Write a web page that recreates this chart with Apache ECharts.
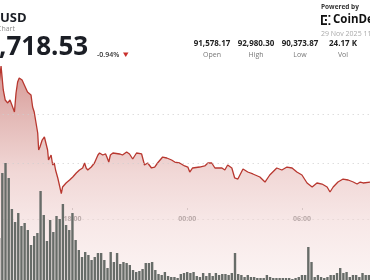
<!DOCTYPE html>
<html><head><meta charset="utf-8">
<script src="https://cdn.jsdelivr.net/npm/echarts@6/dist/echarts.min.js"></script>
<style>html,body{margin:0;padding:0;background:#fff}#c{width:370px;height:280px}</style>
</head><body><div id="c"></div>
<script>
// Price line: minutes since midnight of 28 Nov (values past 1440 are 29 Nov)
const lineMinutes = [850,856,863,869,877,884,890,898,903,908,913,922,929,939,950,955,960,966,971,974,978,985,992,997,1002,1005,1013,1018,1023,1027,1034,1039,1045,1049,1060,1071,1081,1092,1102,1112,1118,1123,1128,1139,1149,1160,1165,1175,1184,1188,1194,1199,1207,1228,1237,1250,1259,1269,1281,1297,1306,1316,1328,1338,1347,1363,1376,1391,1401,1416,1432,1442,1448,1457,1479,1495,1505,1517,1527,1549,1558,1567,1580,1589,1599,1615,1630,1646,1668,1684,1699,1721,1737,1753,1769,1784,1800,1816,1832,1847,1863,1879,1888,1898,1913,1929,1945,1961,1973,1983,1992,2014];
const linePrices = [92633,92980,92490,92286,92225,92286,92184,92041,92429,92653,92735,92694,92592,92449,92388,92143,92041,92020,91612,91265,91327,91469,91531,91510,91265,91061,91163,90959,91000,90857,90694,90551,90374,90510,90592,90653,90714,90796,90857,90898,91000,90898,90857,90918,91000,91163,91204,91163,91184,91122,91020,91163,91204,91184,91163,91225,91184,91082,91204,91184,90959,91000,90898,90918,91000,91122,91102,91061,91020,91000,90939,90918,90816,90898,90918,90939,91000,91000,90898,90898,90857,90959,90898,90694,90673,90878,90816,90776,90714,90612,90755,90898,90857,90918,90898,90816,90755,90592,90510,90592,90571,90510,90408,90510,90612,90673,90653,90612,90571,90612,90592,90612];
// Volume bars: 10-minute bars starting at 14:10
const volStart = 850;
const volumes = [168,428,468,408,284,232,268,216,228,200,140,176,188,356,260,156,240,192,256,244,304,220,200,268,160,120,92,112,100,
80,92,108,108,80,48,112,72,108,64,72,68,60,40,32,36,44,68,68,72,40,24,20,32,16,12,12,8,24,28,32,28,32,16,12,28,16,28,16,28,20,24,
24,20,28,108,24,20,12,20,12,12,8,8,8,20,12,8,8,8,8,8,8,4,8,12,20,20,132,72,12,20,12,8,12,20,20,28,48,28,32,12,20,20,12,28,20,20];
const gridPrices = [92000, 91000];
const statValues = ['91,578.17','92,980.30','90,373.87','24.17 K'];
const statLabels = ['Open','High','Low','Vol'];

const chart = echarts.init(document.getElementById('c'), null, {renderer:'canvas'});
const FONT = '"Open Sans", "Noto Sans", sans-serif';
function hhmm(v){ const m = ((v % 1440) + 1440) % 1440; const h = Math.floor(m/60), mm = m%60; return (h<10?'0':'')+h+':'+(mm<10?'0':'')+mm; }
const G = {left:-42.3, right:-46.7, outerBoundsMode:'none', containLabel:false};
function txt(x,y,text,font,fill,align){
  return {type:'text', x:x, y:y, silent:true, z:100, style:{text:text, font:font, fill:fill, textAlign:align||'left', align:align||'left', textVerticalAlign:'middle', verticalAlign:'middle'}};
}
const statX = [212,256,300,343];
const graphics = [
  txt(0,18,'USD','bold 13px '+FONT,'#1b1e25'),
  txt(-3,28.5,'Chart','7px '+FONT,'#8c8c8c'),
  txt(-1,48,',718.53','bold 26px '+FONT,'#1b1e25'),
  txt(97,54.5,'-0.94%','600 7px '+FONT,'#333'),
  {type:'polygon', silent:true, z:100, shape:{points:[[123,52.5],[128.5,52.5],[125.75,57]]}, style:{fill:'#c9302c'}},
  txt(321,7.5,'Powered by','bold 6.5px '+FONT,'#333'),
  txt(333,20,'CoinDesk','bold 11.5px '+FONT,'#111'),
  txt(321,33.5,'29 Nov 2025 11:00','7px '+FONT,'#aaa'),
  {type:'rect', silent:true, z:100, shape:{x:321,y:15,width:1.8,height:10}, style:{fill:'#111'}},
  {type:'rect', silent:true, z:100, shape:{x:321,y:15,width:6,height:1.8}, style:{fill:'#111'}},
  {type:'rect', silent:true, z:100, shape:{x:321,y:23.2,width:6,height:1.8}, style:{fill:'#111'}},
  {type:'rect', silent:true, z:100, shape:{x:328.5,y:15,width:1.8,height:1.8}, style:{fill:'#111'}},
  {type:'rect', silent:true, z:100, shape:{x:328.5,y:23.2,width:1.8,height:1.8}, style:{fill:'#111'}},
  {type:'rect', silent:true, z:100, shape:{x:325,y:19.1,width:1.8,height:1.8}, style:{fill:'#111'}}
];
statValues.forEach((s,i)=>{
  graphics.push(txt(statX[i],44,s,'bold 8px '+FONT,'#222','center'));
  graphics.push(txt(statX[i],54.5,statLabels[i],'7px '+FONT,'#777','center'));
});

chart.setOption({
  animation:false,
  backgroundColor:'#fff',
  grid:[
    Object.assign({top:0, bottom:0}, G),
    Object.assign({top:0, bottom:0}, G),
    Object.assign({top:0, height:219}, G),
    Object.assign({top:0, height:210}, G)
  ],
  xAxis:[
    {gridIndex:0, type:'value', min:720, max:2160, show:false},
    {gridIndex:1, type:'value', min:720, max:2160, show:false},
    {gridIndex:2, type:'value', min:720, max:2160, interval:360, position:'bottom',
      axisLine:{show:true, lineStyle:{color:'#cfcfcf', type:[1,4], width:1}},
      axisTick:{show:false}, splitLine:{show:false},
      axisLabel:{show:true, margin:-4, color:'#333', fontSize:7, fontWeight:'bold', fontFamily:FONT, formatter:hhmm}},
    {gridIndex:3, type:'value', min:720, max:2160, interval:360, position:'bottom',
      axisLine:{show:false}, axisLabel:{show:false}, splitLine:{show:false},
      axisTick:{show:true, inside:true, length:2, lineStyle:{color:'#999'}}}
  ],
  yAxis:[
    {gridIndex:0, type:'value', min:88612.2, max:94326.5, show:false},
    {gridIndex:1, type:'value', min:0, max:1120, show:false},
    {gridIndex:2, type:'value', show:false},
    {gridIndex:3, type:'value', show:false}
  ],
  series:[
    {type:'line', xAxisIndex:0, yAxisIndex:0, z:2,
      data: lineMinutes.map((t,i)=>[t, linePrices[i]]),
      symbol:'none', lineStyle:{color:'#b8372f', width:1.3},
      areaStyle:{origin:'start', color:new echarts.graphic.LinearGradient(0,0,0,1,[
        {offset:0, color:'#c46a65'},{offset:0.26, color:'#d99f9b'},{offset:0.5, color:'#ebc7c5'},
        {offset:0.73, color:'#f4dedd'},{offset:1, color:'#faefee'}])},
      markLine:{silent:true, symbol:'none', label:{show:false}, animation:false,
        lineStyle:{color:'#cfcfcf', type:[1,4], width:1},
        data: gridPrices.map(v=>({yAxis:v}))}
    },
    {type:'bar', xAxisIndex:1, yAxisIndex:1, z:3,
      data: volumes.map((v,i)=>[volStart+10*i, v]),
      barWidth:2.4, itemStyle:{color:'#676c68'}}
  ],
  graphic: graphics
});
</script></body></html>
